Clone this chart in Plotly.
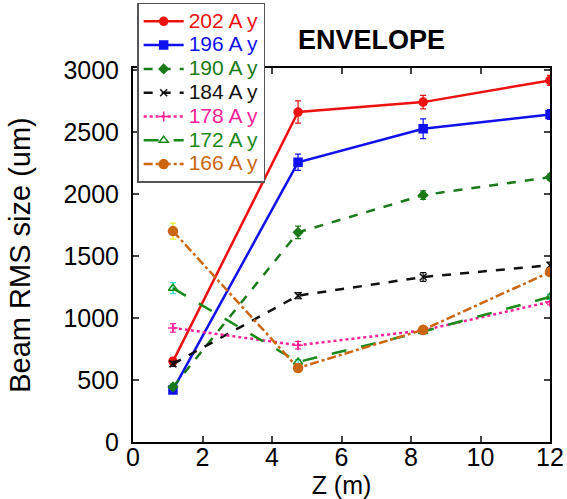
import plotly.graph_objects as go

z = [1.15, 4.75, 8.35, 12.0]

labels = ["202 A y", "196 A y", "190 A y", "184 A y", "178 A y", "172 A y", "166 A y"]
y202 = [650, 2660, 2740, 2915]
y196 = [420, 2255, 2525, 2640]
y190 = [444, 1690, 1990, 2135]
y184 = [630, 1180, 1330, 1425]
y178 = [920, 780, 900, 1130]
y172 = [1240, 645, 890, 1170]
y166 = [1700, 597, 905, 1370]

e202 = [30, 90, 55, 40]
e196 = [25, 65, 80, 40]
e190 = [20, 50, 35, 25]
e184 = [20, 25, 35, 25]
e178 = [35, 30, 25, 25]
e172 = [45, 20, 20, 20]
e166 = [65, 25, 25, 25]

series = [y202, y196, y190, y184, y178, y172, y166]
errors = [e202, e196, e190, e184, e178, e172, e166]
colors = ["#ee1111", "#1111ee", "#1a7a1a", "#111111", "#ff2299", "#1a8a1a", "#cc6611"]
err_colors = ["#ee1111", "#1111ee", "#1a7a1a", "#111111", "#ff2299", "#22dddd", "#eeee22"]
dashes = ["solid", "solid", "dash", "dash", "dot", "longdash", "dashdot"]
symbols = ["circle", "square", "diamond", "x-thin-open", "cross-thin-open", "triangle-up-open", "circle"]
sizes = [8, 8, 7, 7, 7, 8, 9]

fig = go.Figure()
for lab, y, e, c, ec, d, s, ms in zip(labels, series, errors, colors, err_colors, dashes, symbols, sizes):
    fig.add_trace(go.Scatter(
        x=z, y=y, mode="lines+markers",
        name=f'<span style="color:{c};font-size:21px">{lab}</span>',
        line=dict(color=c, width=2.5, dash=d),
        marker=dict(symbol=s, size=ms, color=c, line=dict(color=c, width=1.5)),
        error_y=dict(type="data", array=e, visible=True, color=ec, thickness=1.2, width=3),
    ))

fig.update_layout(
    width=567, height=499,
    margin=dict(l=133, r=17, t=68, b=57, autoexpand=False),
    paper_bgcolor="white", plot_bgcolor="white",
    font=dict(family="Arial", size=25, color="black"),
    showlegend=True,
    legend=dict(x=0.01, y=1.174, xanchor="left", yanchor="top",
                bgcolor="white", bordercolor="#555", borderwidth=1.5,
                font=dict(size=16), itemwidth=40, tracegroupgap=0),
    annotations=[dict(text="<b>ENVELOPE</b>", x=0.571, y=1.075, xref="paper", yref="paper",
                      showarrow=False, font=dict(size=27, color="black"), xanchor="center", yanchor="middle")],
)
fig.update_xaxes(range=[0, 12], tickvals=[0, 2, 4, 6, 8, 10, 12], ticks="inside", ticklen=6,
                 tickwidth=2, showline=True, linecolor="black", linewidth=2, mirror="allticks",
                 showgrid=False, zeroline=False, ticklabelstandoff=-8,
                 title=dict(text="Z (m)", standoff=14, font=dict(size=25)))
fig.update_yaxes(range=[0, 3015], tickvals=[0, 500, 1000, 1500, 2000, 2500, 3000], ticks="inside",
                 ticklen=6, tickwidth=2, showline=True, linecolor="black", linewidth=2, mirror="allticks",
                 showgrid=False, zeroline=False, ticklabelstandoff=7,
                 title=dict(text="Beam RMS size (um)", standoff=24, font=dict(size=29)))

fig.write_html("out.html")
